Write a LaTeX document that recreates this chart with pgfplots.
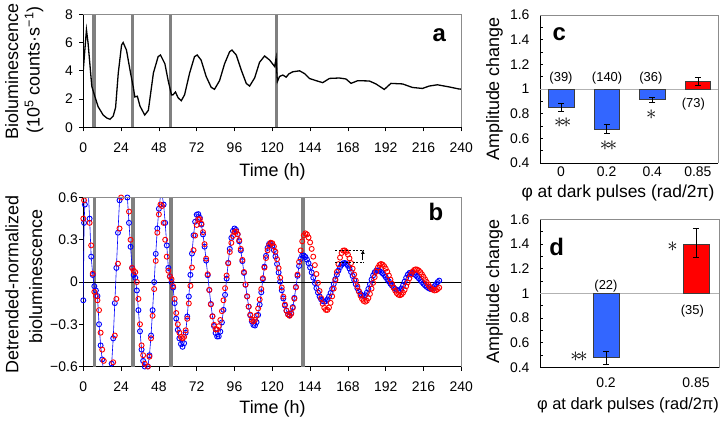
\documentclass[border=0pt]{standalone}
\usepackage{pgfplots}
\pgfplotsset{compat=1.18}
\usepackage{pgfplotstable}
\usetikzlibrary{arrows.meta}
\usepackage{fontspec}
\setmainfont{Liberation Sans}
\definecolor{barblue}{RGB}{51,102,255}
\definecolor{barred}{RGB}{255,0,0}
\definecolor{framegray}{RGB}{140,140,140}
\definecolor{pulsegray}{RGB}{128,128,128}
\definecolor{bardraw}{RGB}{60,60,60}

\pgfplotstableread{
t v
0 4.05
1 5.5
2 6.9
3 6.0
4 4.7
5.4 2.9
7.3 2.2
9.4 1.46
12.6 0.87
15 0.65
17 0.57
19 0.8
20.5 1.4
22.2 3.84
24.3 5.83
25.3 6.0
27.4 5.47
30 3.84
31.7 2.87
32.7 2.15
34.3 2.2
36 1.5
39 0.87
41.3 1.2
44.5 3.84
47.5 5.0
49 5.12
51.8 4.5
53.9 3.3
56 2.29
57 2.3
58.5 2.5
60.2 2.09
62.2 1.88
64.3 2.3
67.5 3.84
70.6 5.0
72.3 5.12
74.8 4.76
78 3.6
81.2 2.83
83.3 2.69
86.5 3.3
89.7 4.5
92.9 5.35
94.4 5.47
97.1 5.12
100.3 4.05
103.5 3.1
105.6 2.92
108.8 3.5
111.9 4.6
115.1 5.05
118.3 4.76
121.5 4.3
122.4 4.9
123.2 3.23
124.6 3.6
126.7 3.7
128.8 3.55
130.5 3.78
133 3.93
137.3 4.0
140.5 3.8
143.7 3.45
147.9 3.3
152 3.16
156.3 3.46
162.6 3.49
166.8 3.42
170 3.11
174.2 3.3
181.6 3.28
185.8 3.07
191.1 2.68
195.3 3.11
202.7 3.07
209 2.82
215.3 2.75
219.6 2.92
224.8 3.01
232.2 2.86
238.6 2.71
240 2.7
}\rawdata

\pgfplotstableread{
t v
0 -0.13
0.5 0.42
1 0.55
2 0.75
3 0.68
4 0.45
5 0.18
6 0.05
7 -0.03
8 -0.06
9 -0.10
10 -0.30
11 -0.45
12 -0.55
13 -0.65
14 -0.72
15 -0.76
16 -0.75
17 -0.70
18 -0.58
19 -0.40
20 -0.15
21 0.10
22 0.35
23 0.58
24 0.72
25 0.80
26 0.80
27 0.72
28 0.60
29 0.42
30 0.25
31 0.10
32 0.05
33 0.03
34 -0.06
35 -0.20
36 -0.35
37 -0.48
38 -0.56
39 -0.60
40 -0.62
41 -0.60
42 -0.52
43 -0.38
44 -0.20
45 0.00
46 0.20
47 0.38
48 0.52
49 0.61
50 0.62
51 0.55
52 0.42
53 0.26
54 0.10
55 0.04
56 0.00
57 -0.04
58 -0.15
59 -0.26
60 -0.34
61 -0.40
62 -0.44
63 -0.46
64 -0.435
65 -0.36
66 -0.245
67 -0.103
68 0.051
69 0.202
70 0.332
71 0.428
72 0.478
73 0.482
74 0.456
75 0.408
76 0.338
77 0.251
78 0.152
79 0.048
80 -0.057
81 -0.156
82 -0.243
83 -0.313
84 -0.362
85 -0.387
86 -0.386
87 -0.352
88 -0.287
89 -0.198
90 -0.091
91 0.024
92 0.136
93 0.235
94 0.313
95 0.363
96 0.380
97 0.370
98 0.339
99 0.289
100 0.224
101 0.148
102 0.065
103 -0.020
104 -0.102
105 -0.175
106 -0.236
107 -0.280
108 -0.305
109 -0.309
110 -0.285
111 -0.234
112 -0.161
113 -0.073
114 0.020
115 0.109
116 0.186
117 0.242
118 0.271
119 0.273
120 0.257
121 0.226
122 0.182
123 0.128
124 0.067
125 0.003
126 -0.059
127 -0.117
128 -0.167
129 -0.204
130 -0.228
131 -0.236
132 -0.221
133 -0.178
134 -0.113
135 -0.035
136 0.044
137 0.114
138 0.164
139 0.189
140 0.188
141 0.178
142 0.159
143 0.134
144 0.103
145 0.068
146 0.031
147 -0.007
148 -0.043
149 -0.075
150 -0.102
151 -0.123
152 -0.136
153 -0.140
154 -0.136
155 -0.124
156 -0.104
157 -0.078
158 -0.048
159 -0.014
160 0.020
161 0.052
162 0.081
163 0.105
164 0.123
165 0.133
166 0.135
167 0.129
168 0.115
169 0.096
170 0.071
171 0.043
172 0.013
173 -0.016
174 -0.044
175 -0.067
176 -0.085
177 -0.096
178 -0.100
179 -0.094
180 -0.076
181 -0.049
182 -0.017
183 0.017
184 0.047
185 0.069
186 0.081
187 0.083
188 0.079
189 0.072
190 0.062
191 0.050
192 0.035
193 0.019
194 0.004
195 -0.012
196 -0.026
197 -0.039
198 -0.049
199 -0.056
200 -0.060
201 -0.058
202 -0.046
203 -0.024
204 0.003
205 0.030
206 0.052
207 0.064
208 0.066
209 0.063
210 0.057
211 0.049
212 0.038
213 0.026
214 0.013
215 0.000
216 -0.013
217 -0.024
218 -0.034
219 -0.042
220 -0.048
221 -0.050
222 -0.045
223 -0.030
224 -0.015
225 0.000
226 0.010
}\bluedata

\pgfplotstableread{
t v
0 0.45
0.5 0.58
1 0.68
2 0.75
3 0.62
4 0.42
5 0.26
6 0.06
7 -0.07
8 -0.10
9 -0.13
10 -0.20
11 -0.36
12 -0.48
13 -0.56
14 -0.63
15 -0.70
16 -0.73
17 -0.72
18 -0.67
19 -0.57
20 -0.38
21 -0.12
22 0.13
23 0.38
24 0.60
25 0.75
26 0.80
27 0.75
28 0.65
29 0.50
30 0.30
31 0.10
32 0.08
33 0.07
34 0.00
35 -0.12
36 -0.30
37 -0.45
38 -0.52
39 -0.58
40 -0.61
41 -0.60
42 -0.53
43 -0.40
44 -0.24
45 -0.05
46 0.15
47 0.35
48 0.48
49 0.55
50 0.54
51 0.42
52 0.30
53 0.18
54 0.08
55 0.04
56 0.02
57 -0.03
58 -0.12
59 -0.22
60 -0.30
61 -0.36
62 -0.39
63 -0.40
64 -0.390
65 -0.343
66 -0.261
67 -0.152
68 -0.027
69 0.103
70 0.226
71 0.330
72 0.405
73 0.445
74 0.446
75 0.414
76 0.354
77 0.269
78 0.166
79 0.055
80 -0.056
81 -0.159
82 -0.244
83 -0.304
84 -0.336
85 -0.337
86 -0.314
87 -0.270
88 -0.207
89 -0.130
90 -0.044
91 0.046
92 0.133
93 0.213
94 0.278
95 0.327
96 0.354
97 0.359
98 0.339
99 0.297
100 0.235
101 0.157
102 0.071
103 -0.018
104 -0.102
105 -0.175
106 -0.232
107 -0.268
108 -0.280
109 -0.269
110 -0.238
111 -0.188
112 -0.124
113 -0.050
114 0.027
115 0.102
116 0.170
117 0.225
118 0.262
119 0.279
120 0.275
121 0.253
122 0.215
123 0.162
124 0.099
125 0.030
126 -0.039
127 -0.104
128 -0.160
129 -0.203
130 -0.231
131 -0.240
132 -0.226
133 -0.184
134 -0.119
135 -0.038
136 0.053
137 0.143
138 0.224
139 0.289
140 0.331
141 0.345
142 0.338
143 0.316
144 0.281
145 0.235
146 0.180
147 0.120
148 0.057
149 -0.006
150 -0.064
151 -0.115
152 -0.155
153 -0.183
154 -0.198
155 -0.198
156 -0.181
157 -0.148
158 -0.102
159 -0.047
160 0.013
161 0.072
162 0.127
163 0.173
164 0.206
165 0.223
166 0.224
167 0.214
168 0.195
169 0.168
170 0.134
171 0.095
172 0.053
173 0.011
174 -0.030
175 -0.066
176 -0.097
177 -0.120
178 -0.135
179 -0.140
180 -0.133
181 -0.114
182 -0.085
183 -0.047
184 -0.006
185 0.035
186 0.073
187 0.102
188 0.121
189 0.128
190 0.124
191 0.113
192 0.095
193 0.073
194 0.046
195 0.017
196 -0.012
197 -0.039
198 -0.061
199 -0.079
200 -0.090
201 -0.094
202 -0.089
203 -0.076
204 -0.056
205 -0.030
206 -0.002
207 0.026
208 0.052
209 0.072
210 0.085
211 0.090
212 0.088
213 0.081
214 0.070
215 0.055
216 0.037
217 0.019
218 0.000
219 -0.018
220 -0.034
221 -0.046
222 -0.055
223 -0.060
224 -0.058
225 -0.050
226 -0.040
}\reddata

\pgfplotsset{
  panel/.style={scale only axis, anchor=south west,
    axis x line*=bottom, axis y line*=left,
    axis line style={black, line width=0.8bp},
    /pgf/number format/assume math mode=true,
    tick label style={font=\fontsize{14}{14}\selectfont, black},
    tick style={black, line width=0.8bp},
    clip mode=individual},
}

\begin{document}
\begin{tikzpicture}[x=1bp,y=1bp]

% ---------------- panel a
\begin{axis}[panel, at={(83.3bp,296.7bp)}, width=378bp, height=113bp,
  xmin=0, xmax=240, ymin=0, ymax=8,
  xtick={0,24,48,72,96,120,144,168,192,216,240},
  ytick={0,2,4,6,8}, yticklabels={0,2,4,6,8},
  tick align=outside, major tick length=4bp,
  xticklabel style={yshift=-8bp}, yticklabel style={xshift=-3bp}]
\addplot[pulsegray, line width=3.6bp, forget plot] coordinates {(6.8,0) (6.8,8)};
\addplot[pulsegray, line width=3.6bp, forget plot] coordinates {(31.2,0) (31.2,8)};
\addplot[pulsegray, line width=3.6bp, forget plot] coordinates {(55.4,0) (55.4,8)};
\addplot[pulsegray, line width=3.6bp, forget plot] coordinates {(122.6,0) (122.6,8)};
\addplot[black, line width=1.3bp, mark=none] table[x=t, y=v] {\rawdata};
\draw[framegray, line width=0.8bp] (rel axis cs:0,1) -- (rel axis cs:1,1) -- (rel axis cs:1,0);
\end{axis}

% ---------------- panel b
\begin{axis}[panel, at={(83.3bp,57.5bp)}, width=378bp, height=169bp,
  xmin=0, xmax=240, ymin=-0.6, ymax=0.6,
  xtick={0,24,48,72,96,120,144,168,192,216,240},
  ytick={-0.6,-0.3,0,0.3,0.6}, yticklabels={−0.6,−0.3,0,0.3,0.6},
  tick align=outside, major tick length=4bp,
  xticklabel style={yshift=-8bp}, yticklabel style={xshift=2bp}]
\addplot[pulsegray, line width=3.6bp, forget plot] coordinates {(7.2,-0.6) (7.2,0.6)};
\addplot[pulsegray, line width=3.6bp, forget plot] coordinates {(31.6,-0.6) (31.6,0.6)};
\addplot[pulsegray, line width=3.6bp, forget plot] coordinates {(55.5,-0.6) (55.5,0.6)};
\addplot[pulsegray, line width=3.6bp, forget plot] coordinates {(139.6,-0.6) (139.6,0.6)};
\addplot[black, line width=0.8bp, forget plot] coordinates {(0,0) (240,0)};
\addplot[blue, line width=0.6bp, mark=o, mark size=2.5bp, mark options={line width=0.9bp, blue}] table[x=t, y=v] {\bluedata};
\addplot[only marks, mark=o, mark size=2.5bp, mark options={line width=0.9bp, red}] table[x=t, y=v] {\reddata};
\draw[black, line width=0.6bp, dash pattern=on 2bp off 1.5bp] (axis cs:160,0.225) -- (axis cs:178.5,0.225);
\draw[black, line width=0.6bp, dash pattern=on 2bp off 1.5bp] (axis cs:160,0.142) -- (axis cs:178.5,0.142);
\draw[-{Latex[length=4bp,width=4bp]}, black, line width=0.8bp] (axis cs:177.5,0.155) -- (axis cs:177.5,0.228);
\draw[framegray, line width=0.8bp] (rel axis cs:0,1) -- (rel axis cs:1,1) -- (rel axis cs:1,0);
\end{axis}

% ---------------- panel c
\begin{axis}[panel, at={(540bp,261bp)}, width=178bp, height=148bp,
  xmin=-0.46, xmax=3.44, ymin=0.4, ymax=1.6,
  xtick={0,1,2,3}, xticklabels={0,0.2,0.4,0.85},
  ytick={0.4,0.6,0.8,1,1.2,1.4,1.6}, yticklabels={0.4,0.6,0.8,1,1.2,1.4,1.6},
  minor ytick={0.5,0.7,0.9,1.1,1.3,1.5},
  tick align=inside, major tick length=3bp, minor tick length=3bp,
  xtick style={draw=none},
  xticklabel style={yshift=0bp}, yticklabel style={xshift=-7bp}]
\addplot[gray!60, line width=0.6bp, forget plot] coordinates {(-0.46,1) (3.44,1)};
\addplot[fill=barblue, draw=bardraw, line width=0.5bp] coordinates {(-0.28,1) (-0.28,0.854) (0.28,0.854) (0.28,1)} -- cycle;
\addplot[fill=barblue, draw=bardraw, line width=0.5bp] coordinates {(0.72,1) (0.72,0.676) (1.28,0.676) (1.28,1)} -- cycle;
\addplot[fill=barblue, draw=bardraw, line width=0.5bp] coordinates {(1.72,1) (1.72,0.916) (2.28,0.916) (2.28,1)} -- cycle;
\addplot[fill=barred, draw=bardraw, line width=0.5bp] coordinates {(2.72,1) (2.72,1.063) (3.28,1.063) (3.28,1)} -- cycle;
\addplot[black, line width=0.6bp, mark=none, error bars/.cd, y dir=both, y explicit, error bar style={line width=0.6bp}, error mark options={rotate=90, mark size=3bp, line width=0.6bp}] coordinates {(0,0.853) +- (0,0.03)};
\addplot[black, line width=0.6bp, mark=none, error bars/.cd, y dir=both, y explicit, error bar style={line width=0.6bp}, error mark options={rotate=90, mark size=3bp, line width=0.6bp}] coordinates {(1,0.676) +- (0,0.037)};
\addplot[black, line width=0.6bp, mark=none, error bars/.cd, y dir=both, y explicit, error bar style={line width=0.6bp}, error mark options={rotate=90, mark size=3bp, line width=0.6bp}] coordinates {(2,0.916) +- (0,0.02)};
\addplot[black, line width=0.6bp, mark=none, error bars/.cd, y dir=both, y explicit, error bar style={line width=0.6bp}, error mark options={rotate=90, mark size=3bp, line width=0.6bp}] coordinates {(3,1.063) +- (0,0.03)};
\node[font=\fontsize{13}{13}\selectfont] at (axis cs:0,1.089) {(39)};
\node[font=\fontsize{13}{13}\selectfont] at (axis cs:1.01,1.089) {(140)};
\node[font=\fontsize{13}{13}\selectfont] at (axis cs:1.97,1.089) {(36)};
\node[font=\fontsize{13}{13}\selectfont] at (axis cs:2.9,0.88) {(73)};
\node[font=\fontsize{22}{22}\selectfont] at (axis cs:0.04,0.729) {$\ast\!\ast$};
\node[font=\fontsize{22}{22}\selectfont] at (axis cs:1.04,0.543) {$\ast\!\ast$};
\node[font=\fontsize{22}{22}\selectfont] at (axis cs:1.98,0.794) {$\ast$};
\draw[framegray, line width=0.8bp] (rel axis cs:0,1) -- (rel axis cs:1,1) -- (rel axis cs:1,0);
\end{axis}

% ---------------- panel d
\begin{axis}[panel, at={(540bp,56.5bp)}, width=179bp, height=148.3bp,
  xmin=-0.733, xmax=1.256, ymin=0.4, ymax=1.6,
  xtick={0,1}, xticklabels={0.2,0.85},
  ytick={0.4,0.6,0.8,1,1.2,1.4,1.6}, yticklabels={0.4,0.6,0.8,1,1.2,1.4,1.6},
  minor ytick={0.5,0.7,0.9,1.1,1.3,1.5},
  tick align=inside, major tick length=3bp, minor tick length=3bp,
  xtick style={draw=none},
  xticklabel style={yshift=-7bp}, yticklabel style={xshift=-7bp}]
\addplot[gray!60, line width=0.6bp, forget plot] coordinates {(-0.733,1) (1.256,1)};
\addplot[fill=barblue, draw=bardraw, line width=0.5bp] coordinates {(-0.144,1) (-0.144,0.482) (0.144,0.482) (0.144,1)} -- cycle;
\addplot[fill=barred, draw=bardraw, line width=0.5bp] coordinates {(0.856,1) (0.856,1.40) (1.144,1.40) (1.144,1)} -- cycle;
\addplot[black, line width=0.6bp, mark=none, error bars/.cd, y dir=both, y explicit, error bar style={line width=0.6bp}, error mark options={rotate=90, mark size=3bp, line width=0.6bp}] coordinates {(0,0.478) +- (0,0.05)};
\addplot[black, line width=0.6bp, mark=none, error bars/.cd, y dir=both, y explicit, error bar style={line width=0.6bp}, error mark options={rotate=90, mark size=3bp, line width=0.6bp}] coordinates {(1,1.41) +- (0,0.12)};
\node[font=\fontsize{13}{13}\selectfont] at (axis cs:0,1.06) {(22)};
\node[font=\fontsize{13}{13}\selectfont] at (axis cs:0.96,0.86) {(35)};
\node[font=\fontsize{22}{22}\selectfont] at (axis cs:-0.3,0.487) {$\ast\!\ast$};
\node[font=\fontsize{22}{22}\selectfont] at (axis cs:0.74,1.377) {$\ast$};
\draw[framegray, line width=0.8bp] (rel axis cs:0,1) -- (rel axis cs:1,1) -- (rel axis cs:1,0);
\end{axis}

% ---------------- labels
\node[rotate=90, font=\fontsize{18}{18}\selectfont] at (11.7,352.3) {Bioluminescence};
\node[rotate=90, font=\fontsize{18}{18}\selectfont] at (34,354) {(10\textsuperscript{5} counts·s\textsuperscript{−1})};
\node[rotate=90, font=\fontsize{18}{18}\selectfont] at (12,139.7) {Detrended-normalized};
\node[rotate=90, font=\fontsize{18}{18}\selectfont] at (35.8,147.3) {bioluminescence};
\node[rotate=90, font=\fontsize{18}{18}\selectfont] at (494.5,335) {Amplitude change};
\node[rotate=90, font=\fontsize{18}{18}\selectfont] at (494.5,132.5) {Amplitude change};
\node[font=\fontsize{18}{18}\selectfont] at (272.5,252.3) {Time (h)};
\node[font=\fontsize{18}{18}\selectfont] at (272.5,15.5) {Time (h)};
\node[font=\fontsize{17.5}{17.5}\selectfont] at (618,231.5) {φ at dark pulses (rad/2π)};
\node[font=\fontsize{16.5}{16.5}\selectfont] at (628,19) {φ at dark pulses (rad/2π)};
\node[font=\fontsize{24}{24}\selectfont\bfseries] at (439.3,389) {a};
\node[font=\fontsize{24}{24}\selectfont\bfseries] at (436,211.7) {b};
\node[font=\fontsize{24}{24}\selectfont\bfseries] at (559.3,389.7) {c};
\node[font=\fontsize{24}{24}\selectfont\bfseries] at (556.7,177.3) {d};
\pgfresetboundingbox
\useasboundingbox (0,0) rectangle (725,424);
\end{tikzpicture}
\end{document}
